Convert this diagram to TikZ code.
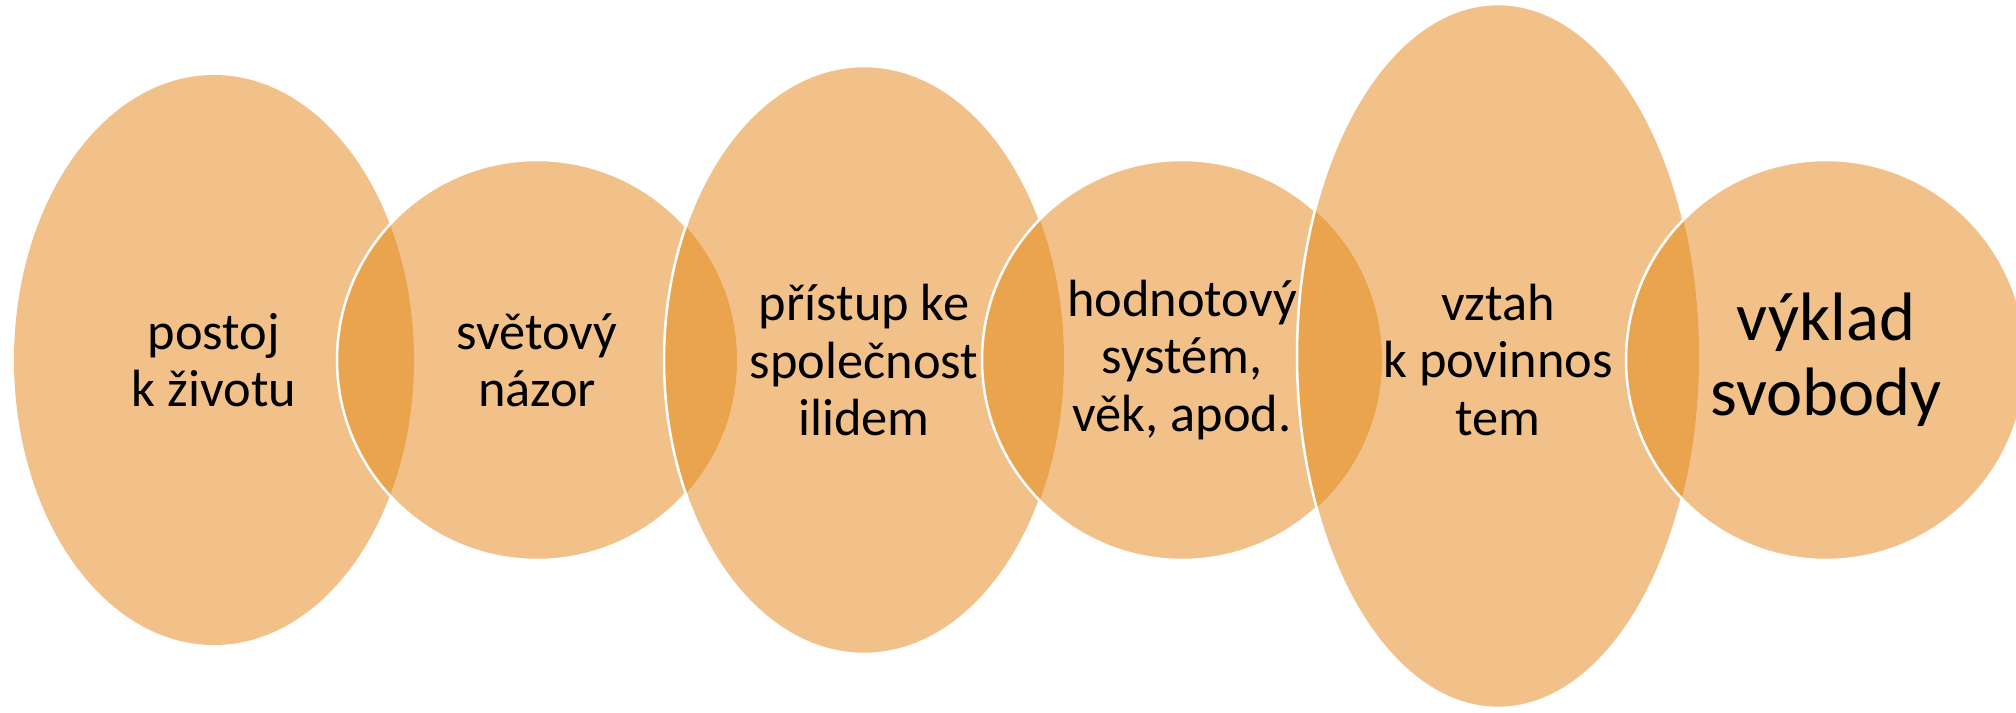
\documentclass[tikz,border=0pt]{standalone}
\usepackage{fontspec}
\setmainfont{Carlito}
\usepackage{tikz}
\definecolor{paleorange}{RGB}{241,193,137}
\definecolor{deeporange}{RGB}{234,164,78}

\begin{document}
\begin{tikzpicture}[x=0.1mm,y=0.1mm,
		blob/.style={fill=paleorange},
		lens/.style={fill=deeporange},
		rim/.style={draw=white,line width=0.25mm},
		caption/.style={align=center,inner sep=0pt,font=\fontsize{14.9}{16.3}\selectfont},
		bigcaption/.style={align=center,inner sep=0pt,font=\fontsize{19.5}{21.3}\selectfont}]
			\useasboundingbox (0,0) rectangle (2016,712);

			% first ellipse and circle
			\fill[blob] (214,352) ellipse (200 and 285);
			\fill[blob] (537,352) circle (200);
			\begin{scope}
				\clip (214,352) ellipse (200 and 285);
				\fill[lens] (537,352) circle (200);
			\end{scope}
			\draw[rim] (537,352) circle (200);

			% second ellipse and circle
			\fill[blob] (864,352) ellipse (200 and 294);
			\begin{scope}
				\clip (537,352) circle (200);
				\fill[lens] (864,352) ellipse (200 and 294);
			\end{scope}
			\draw[rim] (864,352) ellipse (200 and 294);
			\fill[blob] (1182,352) circle (200);
			\begin{scope}
				\clip (864,352) ellipse (200 and 294);
				\fill[lens] (1182,352) circle (200);
			\end{scope}
			\draw[rim] (1182,352) circle (200);

			% third ellipse and circle
			\fill[blob] (1498,356) ellipse (201 and 352);
			\begin{scope}
				\clip (1182,352) circle (200);
				\fill[lens] (1498,356) ellipse (201 and 352);
			\end{scope}
			\draw[rim] (1498,356) ellipse (201 and 352);
			\fill[blob] (1826,352) circle (200);
			\begin{scope}
				\clip (1498,356) ellipse (201 and 352);
				\fill[lens] (1826,352) circle (200);
			\end{scope}
			\draw[rim] (1826,352) circle (200);

			% texts
			\node[caption] (postoj) at (214,352) {postoj\\k životu};
			\node[caption] (nazor) at (537,352) {světový\\názor};
			\node[caption] (pristup) at (864,352) {přístup ke\\společnost\\ilidem};
			\node[caption] (hodnoty) at (1182,352) {hodnotový\\systém,\\věk, apod.};
			\node[caption] (vztah) at (1498,352) {vztah\\k povinnos\\tem};
			\node[bigcaption] (vyklad) at (1826,352) {výklad\\svobody};
\end{tikzpicture}
\end{document}
